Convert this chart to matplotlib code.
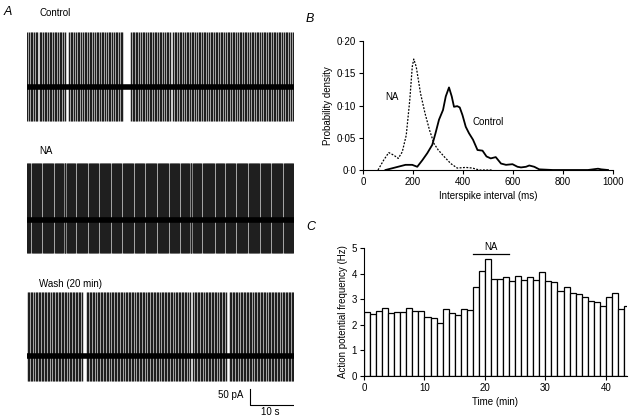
import numpy as np
import matplotlib
matplotlib.use("Agg")
from matplotlib import pyplot as plt

plt.rcParams['font.family'] = ['Liberation Sans', 'DejaVu Sans']
plt.rcParams['font.size'] = 7

# ---- Panel A: spike times (s) in the three 60 s recordings ----
control_spikes = [0.08, 0.41, 0.87, 1.19, 1.62, 2.05, 2.33, 2.81, 3.14, 3.52, 3.97, 4.26, 4.71, 5.09, 5.48,
                  5.77, 6.24, 6.61, 6.98, 7.36, 7.73, 8.19, 8.52, 9.47, 9.83, 10.21, 10.62, 10.94, 11.38,
                  11.79, 12.11, 12.57, 12.93, 13.28, 13.74, 14.06, 14.49, 14.88, 15.27, 15.63, 16.02, 16.44,
                  16.86, 17.18, 17.59, 17.97, 18.36, 18.72, 19.16, 19.49, 19.91, 20.28, 20.67, 21.04, 21.46,
                  23.32, 23.71, 24.05, 24.48, 24.83, 25.26, 25.59, 26.01, 26.37, 26.79, 27.12, 27.55, 27.92,
                  28.31, 28.69, 29.08, 29.43, 29.87, 30.22, 30.58, 31.01, 31.39, 31.76, 32.08, 32.81, 33.17,
                  33.58, 33.94, 34.33, 34.71, 35.12, 35.46, 35.89, 36.23, 36.64, 37.02, 37.38, 37.81, 38.16,
                  38.55, 38.93, 39.34, 39.68, 40.09, 40.47, 40.83, 41.26, 41.59, 42.02, 42.38, 42.77, 43.14,
                  43.57, 43.91, 44.32, 44.68, 45.09, 45.47, 45.84, 46.23, 46.61, 47.03, 47.36, 47.79, 48.14,
                  48.52, 48.93, 49.29, 49.71, 50.06, 50.48, 50.83, 51.22, 51.61, 51.97, 52.38, 52.74, 53.15,
                  53.49, 53.92, 54.27, 54.66, 55.04, 55.43, 55.81, 56.19, 56.58, 56.94, 57.36, 57.72, 58.13,
                  58.47, 58.89, 59.26, 59.68]
na_spikes = [0.06, 0.29, 0.55, 0.78, 1.04, 1.27, 1.53, 1.74, 2.01, 2.26, 2.49, 2.77, 2.98, 3.24, 3.51, 3.73,
             3.97, 4.25, 4.46, 4.71, 4.96, 5.22, 5.44, 5.71, 5.93, 6.19, 6.45, 6.66, 6.94, 7.18, 7.41, 7.69,
             7.91, 8.16, 8.43, 8.64, 8.90, 9.17, 9.38, 9.65, 9.89, 10.12, 10.39, 10.61, 10.87, 11.13, 11.35,
             11.62, 11.86, 12.09, 12.36, 12.58, 12.84, 13.11, 13.32, 13.59, 13.83, 14.06, 14.33, 14.55, 14.81,
             15.08, 15.29, 15.56, 15.80, 16.03, 16.30, 16.52, 16.78, 17.05, 17.26, 17.53, 17.77, 18.00, 18.27,
             18.49, 18.75, 19.02, 19.23, 19.50, 19.74, 19.97, 20.24, 20.46, 20.72, 20.99, 21.20, 21.47, 21.71,
             21.94, 22.21, 22.43, 22.69, 22.96, 23.17, 23.44, 23.68, 23.91, 24.18, 24.40, 24.66, 24.93, 25.14,
             25.41, 25.65, 25.88, 26.15, 26.37, 26.63, 26.90, 27.11, 27.38, 27.62, 27.85, 28.12, 28.34, 28.60,
             28.87, 29.08, 29.35, 29.59, 29.82, 30.09, 30.31, 30.57, 30.84, 31.05, 31.32, 31.56, 31.79, 32.06,
             32.28, 32.54, 32.81, 33.02, 33.29, 33.53, 33.76, 34.03, 34.25, 34.51, 34.78, 34.99, 35.26, 35.50,
             35.73, 36.00, 36.22, 36.48, 36.75, 36.96, 37.23, 37.47, 37.70, 37.97, 38.19, 38.45, 38.72, 38.93,
             39.20, 39.44, 39.67, 39.94, 40.16, 40.42, 40.69, 40.90, 41.17, 41.41, 41.64, 41.91, 42.13, 42.39,
             42.66, 42.87, 43.14, 43.38, 43.61, 43.88, 44.10, 44.36, 44.63, 44.84, 45.11, 45.35, 45.58, 45.85,
             46.07, 46.33, 46.60, 46.81, 47.08, 47.32, 47.55, 47.82, 48.04, 48.30, 48.57, 48.78, 49.05, 49.29,
             49.52, 49.79, 50.01, 50.27, 50.54, 50.75, 51.02, 51.26, 51.49, 51.76, 51.98, 52.24, 52.51, 52.72,
             52.99, 53.23, 53.46, 53.73, 53.95, 54.21, 54.48, 54.69, 54.96, 55.20, 55.43, 55.70, 55.92, 56.18,
             56.45, 56.66, 56.93, 57.17, 57.40, 57.67, 57.89, 58.15, 58.42, 58.63, 58.90, 59.14, 59.37, 59.64,
             59.86]
wash_spikes = [0.15, 0.52, 0.88, 1.21, 1.57, 1.93, 2.24, 2.61, 2.95, 3.31, 3.68, 3.99, 4.36, 4.72, 5.03, 5.41,
               5.74, 6.08, 6.45, 6.79, 7.12, 7.48, 7.83, 8.17, 8.54, 8.86, 9.22, 9.58, 9.91, 10.27, 10.62,
               10.95, 11.32, 11.66, 12.01, 12.37, 13.42, 13.77, 14.11, 14.47, 14.82, 15.16, 15.53, 15.87,
               16.21, 16.58, 16.92, 17.26, 17.63, 17.97, 18.31, 18.68, 19.02, 19.36, 19.73, 20.07, 20.41,
               20.78, 21.12, 21.46, 21.83, 22.17, 22.51, 22.88, 23.22, 23.56, 23.93, 24.27, 24.61, 24.98,
               25.32, 25.66, 26.03, 26.37, 26.71, 27.08, 27.42, 27.76, 28.13, 28.47, 28.81, 29.18, 29.52,
               29.86, 30.23, 30.57, 30.91, 31.28, 31.62, 31.96, 32.33, 32.67, 33.01, 33.38, 33.72, 34.06,
               34.43, 34.77, 35.11, 35.48, 35.82, 36.16, 36.53, 37.31, 37.65, 38.02, 38.36, 38.70, 39.07,
               39.41, 39.75, 40.12, 40.46, 40.80, 41.17, 41.51, 41.85, 42.22, 42.56, 42.90, 43.27, 43.61,
               43.95, 44.32, 44.66, 45.52, 45.89, 46.23, 46.57, 46.94, 47.28, 47.62, 47.99, 48.33, 48.67,
               49.04, 49.38, 49.72, 50.09, 50.43, 50.77, 51.14, 51.48, 51.82, 52.19, 52.53, 52.87, 53.24,
               53.58, 53.92, 54.29, 54.63, 54.97, 55.34, 55.68, 56.02, 56.39, 56.73, 57.07, 57.44, 57.78,
               58.12, 58.49, 58.83, 59.17, 59.54, 59.88]
trace_names = ["Control", "NA", "Wash (20 min)"]
trace_offsets = [0, -416, -840]          # pA
spike_up = [172, 178, 200]               # pA above baseline
spike_down = [106, 103, 78]              # pA below baseline

# ---- Panel B: interspike interval distributions ----
isi_na_x = [60, 83, 103, 123, 141, 157, 173, 187, 197, 203, 213, 230, 248, 266, 284, 301, 324, 351,
            377, 411, 438, 465, 520]
isi_na_y = [0, 0.0155, 0.027, 0.023, 0.018, 0.028, 0.054, 0.108, 0.160, 0.172, 0.160, 0.119, 0.088,
            0.062, 0.041, 0.031, 0.021, 0.010, 0.003, 0.004, 0.003, 0.0, 0.0]
isi_ctl_x = [90, 130, 170, 197, 217, 237, 257, 277, 290, 304, 320, 331, 344, 355, 364, 377, 387, 398,
             411, 424, 440, 458, 478, 494, 511, 531, 552, 572, 598, 618, 632, 652, 665, 685, 705, 759,
             900, 940, 953, 980]
isi_ctl_y = [0, 0.004, 0.008, 0.008, 0.005, 0.015, 0.026, 0.039, 0.057, 0.078, 0.093, 0.114, 0.128,
             0.114, 0.098, 0.099, 0.097, 0.085, 0.067, 0.057, 0.047, 0.031, 0.030, 0.021, 0.018, 0.020,
             0.010, 0.008, 0.009, 0.005, 0.004, 0.005, 0.007, 0.005, 0.001, 0.0, 0.0, 0.002, 0.001, 0.0]

# ---- Panel C: firing frequency per minute ----
minutes = np.arange(44)
freq = [2.51, 2.42, 2.55, 2.64, 2.47, 2.51, 2.51, 2.67, 2.55, 2.54, 2.32, 2.28, 2.06, 2.60, 2.45,
        2.38, 2.62, 2.58, 3.49, 4.10, 4.56, 3.80, 3.80, 3.85, 3.70, 3.92, 3.75, 3.85, 3.75, 4.05,
        3.70, 3.66, 3.32, 3.46, 3.26, 3.20, 3.10, 2.94, 2.88, 2.73, 3.07, 3.23, 2.62, 2.73]
na_period = [18, 24]

W, H = 631, 418
fig = plt.figure(figsize=(W / 100, H / 100), dpi=100)

def box(l, t, r, b):
    return [l / W, 1 - b / H, (r - l) / W, (b - t) / H]

# Panel A
axa = fig.add_axes(box(27, 0, 294, 418))
axa.set_xlim(0, 60)
axa.set_ylim(272 - 418 * 3.125, 272)
axa.axis("off")
for spikes, off, up, dn in zip([control_spikes, na_spikes, wash_spikes], trace_offsets, spike_up, spike_down):
    axa.vlines(spikes, off - dn, off + up, color="0.12", lw=1.05)
    axa.plot([0, 60], [off, off], color="black", lw=4, solid_capstyle="butt")
# scale bar: 50 pA, 10 s
axa.plot([50, 50, 60], [-944, -994, -994], color="black", lw=0.8)
fig.text(243 / W, 1 - 395 / H, "50 pA", ha="right", va="center", fontsize=7)
fig.text(270 / W, 1 - 412 / H, "10 s", ha="center", va="center", fontsize=7)
for name, y in zip(trace_names, [13, 151, 284]):
    fig.text(39 / W, 1 - y / H, name, ha="left", va="center", fontsize=7)

fig.text(4 / W, 1 - 12 / H, "A", fontsize=9, style="italic", va="center")
fig.text(306 / W, 1 - 19 / H, "B", fontsize=9, style="italic", va="center")
fig.text(306 / W, 1 - 227 / H, "C", fontsize=9, style="italic", va="center")

def style_axes(ax):
    for s in ["top", "right"]:
        ax.spines[s].set_visible(False)
    for s in ["left", "bottom"]:
        ax.spines[s].set_linewidth(0.8)
    ax.tick_params(direction="out", length=3, width=0.8, labelsize=7, pad=2)

# Panel B
axb = fig.add_axes(box(363, 41, 613, 170))
axb.plot(isi_na_x, isi_na_y, color="black", lw=0.9, ls=(0, (1.5, 1.2)))
axb.plot(isi_ctl_x, isi_ctl_y, color="black", lw=1.3)
axb.set_xlim(0, 1000)
axb.set_ylim(0, 0.2)
axb.set_xticks([0, 200, 400, 600, 800, 1000])
axb.set_yticks([0, 0.05, 0.10, 0.15, 0.20])
axb.set_yticklabels(["0·0", "0·05", "0·10", "0·15", "0·20"])
axb.set_xlabel("Interspike interval (ms)", fontsize=7, labelpad=3)
axb.set_ylabel("Probability density", fontsize=7, labelpad=3)
axb.text(114, 0.113, "NA", fontsize=7, ha="center", va="center")
axb.text(502, 0.075, "Control", fontsize=7, ha="center", va="center")
style_axes(axb)

# Panel C
axc = fig.add_axes(box(364, 248, 627, 376))
axc.bar(minutes, freq, width=1, align="edge", facecolor="white", edgecolor="black", lw=0.9)
axc.plot(na_period, [4.77, 4.77], color="black", lw=0.9, clip_on=False)
axc.text(np.mean(na_period), 5.03, "NA", fontsize=7, ha="center", va="center")
axc.set_xlim(0, 43.5)
axc.set_ylim(0, 5)
axc.set_xticks([0, 10, 20, 30, 40])
axc.set_yticks([0, 1, 2, 3, 4, 5])
axc.set_xlabel("Time (min)", fontsize=7, labelpad=3)
axc.set_ylabel("Action potential frequency (Hz)", fontsize=7, labelpad=3)
style_axes(axc)

fig.savefig("out.png", dpi=100)
